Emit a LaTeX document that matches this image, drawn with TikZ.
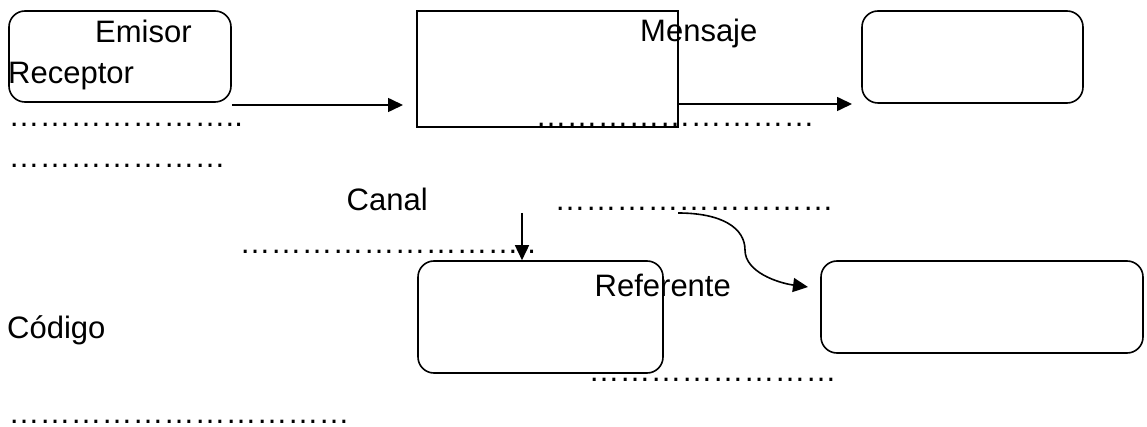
\documentclass[tikz,border=0pt]{standalone}
\usepackage{fontspec}
\setmainfont{Liberation Sans}
\usetikzlibrary{arrows.meta}
\newcommand\ellrep[1]{\foreach\k in {1,...,#1}{…}}
\begin{document}
\begin{tikzpicture}[x=1pt,y=-1pt,
  rbox/.style={draw,line width=1.6pt,rounded corners=16pt,inner sep=0pt},
  sqbox/.style={draw,line width=1.5pt,inner sep=0pt},
  lbl/.style={anchor=base west,inner sep=0pt,font=\fontsize{31}{36}\selectfont},
  arr/.style={line width=1.6pt,-{Triangle[length=15pt,width=14pt]}}]
\useasboundingbox (0,0) rectangle (1147,427);
% boxes
\node[rbox,minimum width=222pt,minimum height=91pt] (emisorbox) at (120,56.5) {};
\node[sqbox,minimum width=261pt,minimum height=116pt] (mensbox) at (547.5,69) {};
\node[rbox,minimum width=221pt,minimum height=92pt] (recbox) at (972.5,57) {};
\node[rbox,minimum width=245pt,minimum height=112pt] (canalbox) at (540.5,317) {};
\node[rbox,minimum width=322pt,minimum height=92pt] (refbox) at (982,307) {};
% labels
\node[lbl] (temisor) at (95,43) {Emisor};
\node[lbl] (treceptor) at (8,84) {Receptor};
\node[lbl] (tdots1) at (8.5,127) {\ellrep{7}..};
\node[lbl] (tdots2) at (8.5,168) {\ellrep{7}};
\node[lbl] (tmensaje) at (640,42) {Mensaje};
\node[lbl] (tdots3) at (535.5,127) {\ellrep{9}};
\node[lbl] (tcanal) at (346.5,211) {Canal};
\node[lbl] (tdots4) at (554.5,211) {\ellrep{9}};
\node[lbl] (tdots5) at (239.5,254) {\ellrep{9}..};
\node[lbl] (treferente) at (594.5,296) {Referente};
\node[lbl] (tcodigo) at (7,338) {Código};
\node[lbl] (tdots6) at (588.5,381) {\ellrep{8}};
\node[lbl] (tdots7) at (8.5,423) {\ellrep{11}};
% connectors
\coordinate (a1end) at (403,105);
\draw[arr] (emisorbox.east |- a1end) -- (a1end);
\coordinate (a2end) at (852,104);
\draw[arr] (mensbox.east |- a2end) -- (a2end);
\coordinate (a3start) at (522,213);
\draw[arr] (a3start) -- (a3start |- canalbox.north);
\coordinate (c0) at (678,213);
\coordinate (c1) at (808,287);
\draw[arr] (c0) .. controls (722,213) and (745,228) .. (745,250)
  .. controls (745,272) and (778,283) .. (c1);
\end{tikzpicture}
\end{document}
